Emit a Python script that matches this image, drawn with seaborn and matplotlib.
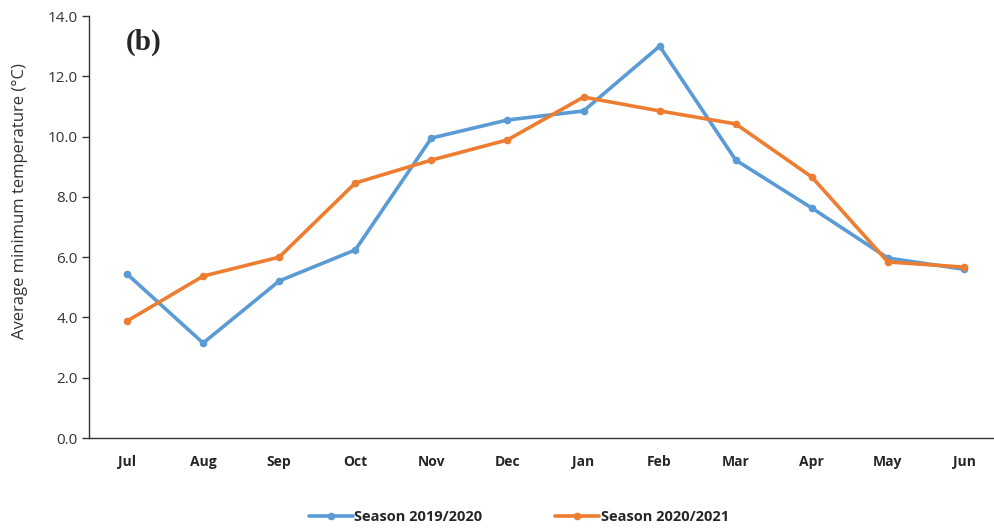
import matplotlib
matplotlib.use("Agg")
import matplotlib.pyplot as plt
import seaborn as sns
import pandas as pd
import numpy as np
from matplotlib.ticker import FixedLocator, FormatStrFormatter

months = ["Jul", "Aug", "Sep", "Oct", "Nov", "Dec", "Jan", "Feb", "Mar", "Apr", "May", "Jun"]
season_2019_2020 = [5.44, 3.15, 5.21, 6.24, 9.95, 10.55, 10.85, 13.0, 9.22, 7.63, 5.97, 5.6]
season_2020_2021 = [3.88, 5.37, 6.0, 8.46, 9.22, 9.89, 11.31, 10.85, 10.42, 8.66, 5.84, 5.67]
labels = ["Season 2019/2020", "Season 2020/2021"]
colors = ["#5B9BD5", "#ED7D31"]

df = pd.DataFrame({
    "month": months * 2,
    "x": list(range(len(months))) * 2,
    "value": season_2019_2020 + season_2020_2021,
    "season": [labels[0]] * len(months) + [labels[1]] * len(months),
})

sns.set_style("white")
plt.rcParams["font.family"] = ["Open Sans", "DejaVu Sans"]

fig = plt.figure(figsize=(9.94, 5.31), dpi=100)
ax = fig.add_axes([89/994, 1-438/531, 913/994, 422/531])

sns.lineplot(data=df, x="x", y="value", hue="season", palette=colors,
             marker="o", markersize=5.5, markeredgewidth=0, linewidth=2.6, ax=ax)

ax.set_xlim(-0.5, 11.5)
ax.set_ylim(0, 14)
ax.set_yticks(np.arange(0, 14.01, 2))
ax.yaxis.set_major_formatter(FormatStrFormatter("%.1f"))
ax.set_xticks(range(len(months)))
ax.set_xticklabels(months, fontweight="bold", fontsize=10)
ax.xaxis.set_minor_locator(FixedLocator(np.arange(-0.5, 11.6, 1)))
ax.tick_params(axis="x", which="major", length=0, pad=12)
ax.tick_params(axis="x", which="minor", length=5, width=1, direction="out", color="#555555")
ax.tick_params(axis="y", length=5, width=1, direction="out", color="#333333", labelsize=11, pad=3)
ax.tick_params(axis="both", bottom=True, left=True)
for lab in ax.get_yticklabels():
    lab.set_color("#333333")

ax.set_xlabel("")
ax.set_ylabel("Average minimum temperature (°C)", fontsize=12, color="#333333")
ax.yaxis.set_label_coords(-0.067, 0.562)

for s in ["top", "right"]:
    ax.spines[s].set_visible(False)
ax.spines["left"].set_color("#333333")
ax.spines["bottom"].set_color("#333333")
ax.spines["left"].set_linewidth(1)
ax.spines["bottom"].set_linewidth(1)

ax.text(0.04, 0.97, "(b)", transform=ax.transAxes, fontsize=21, fontweight="bold",
        family="Liberation Serif", va="top", ha="left")

handles, lbls = ax.get_legend_handles_labels()
ax.legend_.remove()
leg = fig.legend(handles, lbls, loc="center", bbox_to_anchor=(519/994, 1-517/531), ncol=2,
                 frameon=False, prop={"weight": "bold", "size": 10.5}, handlelength=3,
                 handletextpad=0.1, columnspacing=5)

fig.savefig("out.png", dpi=100)
